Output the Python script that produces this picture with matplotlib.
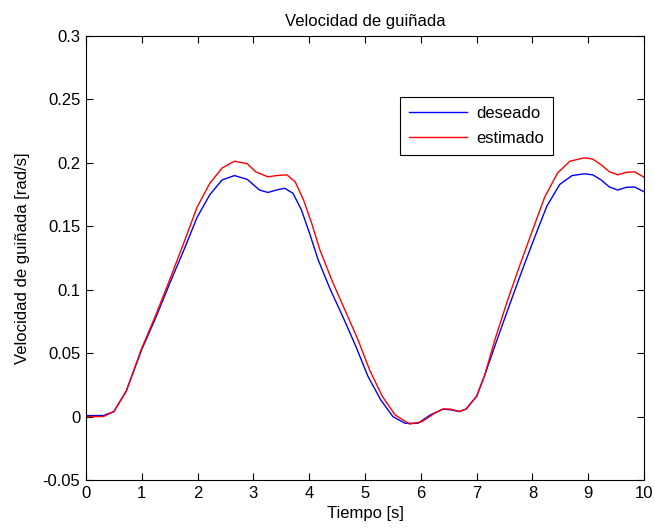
import matplotlib
matplotlib.use('Agg')
import matplotlib.pyplot as plt

# datos (tiempo [s], velocidad [rad/s])
t_deseado = [0.0, 0.31, 0.5, 0.72, 1.0, 1.25, 1.51, 1.77, 1.99, 2.22, 2.44, 2.66,
             2.89, 3.11, 3.26, 3.41, 3.56, 3.71, 3.86, 4.01, 4.16, 4.38, 4.60,
             4.83, 5.05, 5.28, 5.50, 5.72, 5.95, 6.17, 6.40, 6.54, 6.69, 6.81,
             7.0, 7.14, 7.37, 7.59, 7.81, 8.04, 8.26, 8.49, 8.71, 8.93, 9.08,
             9.23, 9.38, 9.53, 9.68, 9.83, 10.0]
v_deseado = [0.0008, 0.0008, 0.004, 0.020, 0.053, 0.078, 0.106, 0.133, 0.157,
             0.175, 0.1866, 0.190, 0.187, 0.1786, 0.1767, 0.1786, 0.180, 0.176,
             0.163, 0.144, 0.1236, 0.1000, 0.079, 0.056, 0.032, 0.0133, 0.0,
             -0.0053, -0.0053, 0.0013, 0.0059, 0.0053, 0.004, 0.0059, 0.016,
             0.032, 0.061, 0.088, 0.1146, 0.1413, 0.166, 0.183, 0.190, 0.1914,
             0.1906, 0.1866, 0.181, 0.1786, 0.1807, 0.181, 0.1773]

t_estimado = [0.0, 0.31, 0.5, 0.72, 1.0, 1.25, 1.51, 1.77, 1.99, 2.22, 2.44,
              2.66, 2.89, 3.04, 3.26, 3.41, 3.60, 3.75, 3.90, 4.04, 4.19, 4.42,
              4.64, 4.87, 5.09, 5.31, 5.54, 5.80, 6.02, 6.25, 6.40, 6.54, 6.69,
              6.81, 7.0, 7.14, 7.33, 7.55, 7.78, 8.0, 8.22, 8.45, 8.67, 8.93,
              9.08, 9.23, 9.38, 9.53, 9.68, 9.83, 10.0]
v_estimado = [0.0, 0.0, 0.004, 0.020, 0.054, 0.080, 0.109, 0.139, 0.165, 0.184,
              0.196, 0.2013, 0.1994, 0.193, 0.189, 0.190, 0.1906, 0.185, 0.1706,
              0.153, 0.1316, 0.106, 0.084, 0.061, 0.036, 0.016, 0.0013, -0.0059,
              -0.004, 0.0027, 0.006, 0.0059, 0.004, 0.0059, 0.016, 0.032, 0.061,
              0.091, 0.120, 0.1466, 0.173, 0.192, 0.2013, 0.204, 0.203, 0.1986,
              0.193, 0.1906, 0.1925, 0.193, 0.1887]

x_ticks = list(range(0, 11))
y_ticks = [-0.05, 0, 0.05, 0.1, 0.15, 0.2, 0.25, 0.3]
y_tick_labels = ['-0.05', '0', '0.05', '0.1', '0.15', '0.2', '0.25', '0.3']

plt.rcParams['font.family'] = ['Liberation Sans', 'DejaVu Sans']

fig = plt.figure(figsize=(6.55, 5.3), dpi=100)
ax = fig.add_axes([0.1313, 0.0943, 0.8519, 0.8377])

ax.plot(t_deseado, v_deseado, color='#0000ff', lw=1.0, label='deseado')
ax.plot(t_estimado, v_estimado, color='#ff0000', lw=1.0, label='estimado')

ax.set_xlim(0, 10)
ax.set_ylim(-0.05, 0.3)
ax.set_xticks(x_ticks)
ax.set_xticklabels([str(x) for x in x_ticks])
ax.set_yticks(y_ticks)
ax.set_yticklabels(y_tick_labels)
ax.tick_params(direction='in', top=True, right=True, labelsize=12, length=5,
               width=0.8, pad=4)
for s in ax.spines.values():
    s.set_linewidth(0.8)

ax.set_title('Velocidad de guiñada', fontsize=12, pad=7)
ax.set_xlabel('Tiempo [s]', fontsize=12, labelpad=4)
ax.set_ylabel('Velocidad de guiñada [rad/s]', fontsize=12, labelpad=9)

leg = ax.legend(loc='upper left', bbox_to_anchor=(0.5627, 0.8626), fontsize=12,
                fancybox=False, framealpha=1, edgecolor='black', borderaxespad=0,
                handlelength=3.5, handletextpad=0.5, borderpad=0.55,
                labelspacing=0.6)
leg.get_frame().set_linewidth(0.8)

fig.savefig('out.png', dpi=100)
